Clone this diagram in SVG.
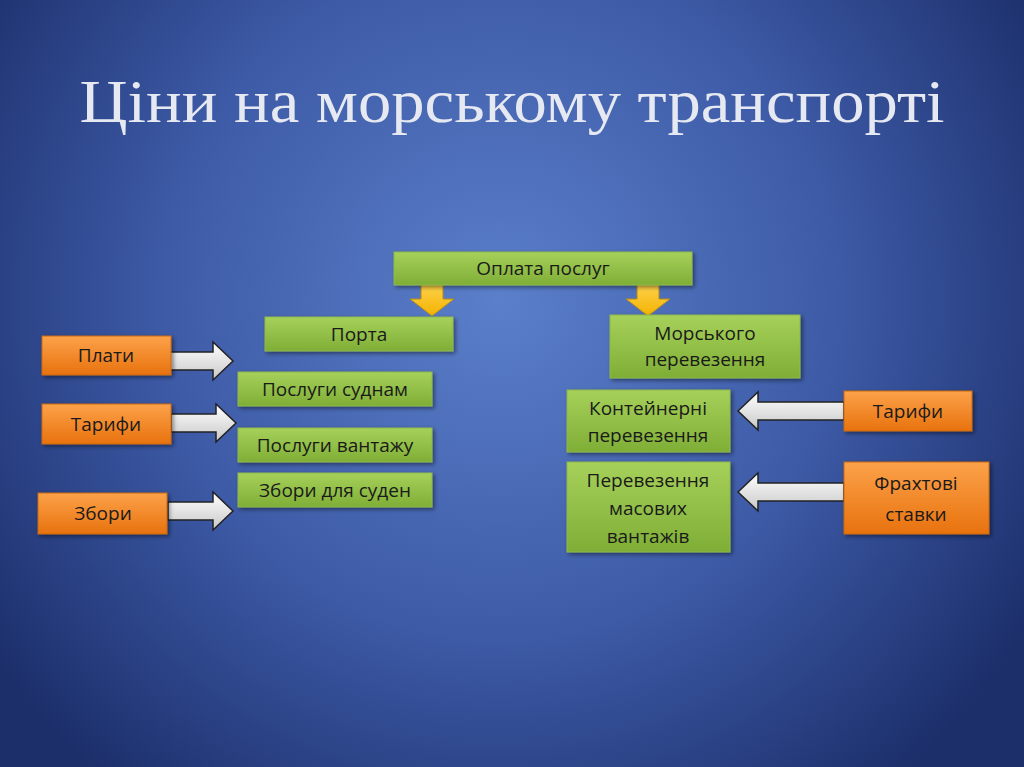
<svg xmlns="http://www.w3.org/2000/svg" width="1024" height="767" viewBox="0 0 1024 767">
<defs>
<radialGradient id="bg" cx="500" cy="300" r="620" gradientUnits="userSpaceOnUse">
<stop offset="0" stop-color="#5b7fca"/><stop offset="0.55" stop-color="#3d5aa6"/><stop offset="1" stop-color="#1c2f6b"/>
</radialGradient>
<linearGradient id="gr" x1="0" y1="0" x2="0" y2="1"><stop offset="0" stop-color="#a6d15a"/><stop offset="1" stop-color="#7fae36"/></linearGradient>
<linearGradient id="or" x1="0" y1="0" x2="0" y2="1"><stop offset="0" stop-color="#fca24a"/><stop offset="1" stop-color="#e8720e"/></linearGradient>
<linearGradient id="wh" x1="0" y1="0" x2="0" y2="1"><stop offset="0" stop-color="#ffffff"/><stop offset="1" stop-color="#c8c8c8"/></linearGradient>
<linearGradient id="ye" x1="0" y1="0" x2="0" y2="1"><stop offset="0" stop-color="#ffd24a"/><stop offset="1" stop-color="#f2b200"/></linearGradient>
<filter id="sh" x="-10%" y="-10%" width="130%" height="140%"><feDropShadow dx="2" dy="2" stdDeviation="2" flood-color="#000" flood-opacity="0.45"/></filter>
</defs>
<style>
.g{fill:url(#gr);stroke:#8fb84a;stroke-width:1;filter:url(#sh)}
.o{fill:url(#or);stroke:#c86a10;stroke-width:1;filter:url(#sh)}
.w{fill:url(#wh);stroke:#222;stroke-width:1.5}
.y{fill:url(#ye);stroke:#b08a20;stroke-width:1}
text{font-family:"Open Sans","DejaVu Sans",sans-serif;font-size:19px;fill:#1a1a1a;text-anchor:middle}
.t{font-family:"Liberation Serif",serif;font-size:62px;fill:#e6e9f2}
</style>
<rect width="1024" height="767" fill="url(#bg)"/>
<text class="t" x="512" y="122" textLength="865" lengthAdjust="spacingAndGlyphs">Ціни на морському транспорті</text>
<g id="connectors">
<polygon class="y" points="421,285 443,285 443,299 454,299 432,316 410,299 421,299"/>
<polygon class="y" points="637,285 659,285 659,299 670,299 648,316 626,299 637,299"/>
<polygon class="w" points="168,352 213,352 213,342 233,361 213,380 213,370 168,370"/>
<polygon class="w" points="171,414 216,414 216,404 236,423 216,442 216,432 171,432"/>
<polygon class="w" points="168,502 213,502 213,492 233,511 213,530 213,520 168,520"/>
<polygon class="w" points="844,402 758,402 758,392 738,411 758,430 758,420 844,420"/>
<polygon class="w" points="844,483 758,483 758,473 738,492 758,511 758,501 844,501"/>
</g>
<g id="n-oplata"><rect class="g" x="394" y="252" width="298" height="33"/><text x="543" y="275">Оплата послуг</text></g>
<g id="n-porta"><rect class="g" x="265" y="317" width="188" height="34"/><text x="359" y="341">Порта</text></g>
<g id="n-sudnam"><rect class="g" x="238" y="372" width="194" height="34"/><text x="335" y="396">Послуги суднам</text></g>
<g id="n-vantazhu"><rect class="g" x="238" y="428" width="194" height="34"/><text x="335" y="452">Послуги вантажу</text></g>
<g id="n-zbory-suden"><rect class="g" x="238" y="473" width="194" height="34"/><text x="335" y="497">Збори для суден</text></g>
<g id="n-platy"><rect class="o" x="42" y="336" width="129" height="39"/><text x="106" y="362">Плати</text></g>
<g id="n-taryfy-l"><rect class="o" x="42" y="404" width="129" height="40"/><text x="106" y="431">Тарифи</text></g>
<g id="n-zbory"><rect class="o" x="38" y="493" width="129" height="41"/><text x="103" y="520">Збори</text></g>
<g id="n-morskoho"><rect class="g" x="610" y="315" width="190" height="63"/><text x="705" y="340">Морського</text><text x="705" y="366">перевезення</text></g>
<g id="n-kont"><rect class="g" x="567" y="390" width="163" height="62"/><text x="648" y="415">Контейнерні</text><text x="648" y="442">перевезення</text></g>
<g id="n-masovykh"><rect class="g" x="567" y="462" width="163" height="90"/><text x="648" y="487">Перевезення</text><text x="648" y="515">масових</text><text x="648" y="543">вантажів</text></g>
<g id="n-taryfy-r"><rect class="o" x="844" y="391" width="128" height="40"/><text x="908" y="418">Тарифи</text></g>
<g id="n-frakht"><rect class="o" x="844" y="462" width="145" height="72"/><text x="916" y="490">Фрахтові</text><text x="916" y="521">ставки</text></g>
</svg>
